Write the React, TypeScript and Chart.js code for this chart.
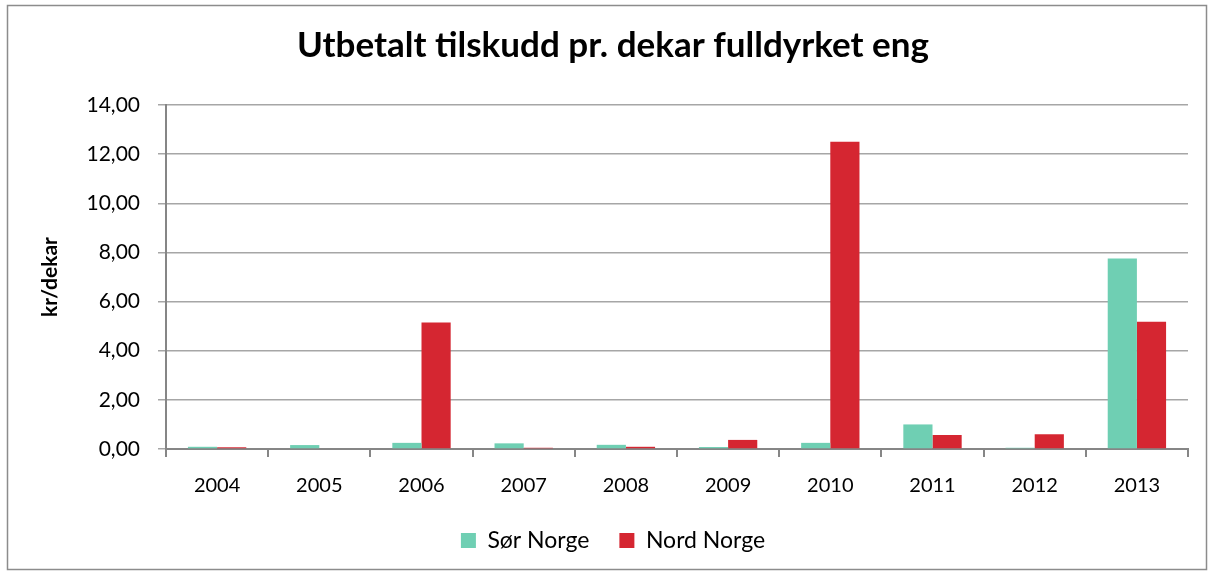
import React, { useEffect, useRef } from "react";
import { Chart, registerables } from "chart.js";

Chart.register(...registerables);

const years = ["2004", "2005", "2006", "2007", "2008", "2009", "2010", "2011", "2012", "2013"];
const sorNorge = [0.09, 0.16, 0.25, 0.23, 0.17, 0.08, 0.25, 1.0, 0.05, 7.75];
const nordNorge = [0.07, 0.03, 5.15, 0.05, 0.09, 0.37, 12.5, 0.57, 0.6, 5.18];
const chartTitle = "Utbetalt tilskudd pr. dekar fulldyrket eng";
const yTitle = "kr/dekar";
const seriesNames = ["Sør Norge", "Nord Norge"];

const FONT = "Lato, 'Open Sans', sans-serif";

const borderPlugin = {
  id: "outerBorder",
  beforeDraw(chart: any) {
    const ctx = chart.ctx;
    ctx.save();
    ctx.fillStyle = "#ffffff";
    ctx.fillRect(0, 0, chart.width, chart.height);
    ctx.strokeStyle = "#8c8c8c";
    ctx.lineWidth = 1.5;
    ctx.strokeRect(7.5, 5.5, chart.width - 15, chart.height - 11);
    ctx.restore();
  },
};

export default function App() {
  const ref = useRef<HTMLCanvasElement | null>(null);
  useEffect(() => {
    document.body.style.margin = "0";
    const chart = new Chart(ref.current!, {
      type: "bar",
      data: {
        labels: years,
        datasets: [
          {
            label: seriesNames[0],
            data: sorNorge,
            backgroundColor: "#6fcfb3",
            categoryPercentage: 0.571,
            barPercentage: 1,
          },
          {
            label: seriesNames[1],
            data: nordNorge,
            backgroundColor: "#d52631",
            categoryPercentage: 0.571,
            barPercentage: 1,
          },
        ],
      },
      options: {
        animation: false,
        responsive: false,
        layout: { padding: { left: 38, right: 26, top: 22, bottom: 13 } },
        plugins: {
          title: {
            display: true,
            text: chartTitle,
            color: "#000",
            font: { family: FONT, size: 35, weight: "bold" },
            padding: { top: 3, bottom: 38 },
          },
          legend: {
            position: "bottom",
            labels: {
              color: "#000",
              font: { family: FONT, size: 23 },
              boxWidth: 15,
              boxHeight: 15,
              padding: 30,
            },
          },
          tooltip: { enabled: false },
        },
        scales: {
          x: {
            afterFit: (scale: any) => {
              scale.height = 50;
            },
            grid: {
              offset: true,
              drawOnChartArea: false,
              drawTicks: true,
              tickLength: 8,
              color: "#868686",
              lineWidth: 2,
            },
            border: { color: "#868686", width: 2 },
            ticks: { color: "#000", font: { family: FONT, size: 20 }, padding: 17 },
          },
          y: {
            min: 0,
            max: 14,
            afterFit: (scale: any) => {
              scale.width = 128;
            },
            ticks: {
              stepSize: 2,
              color: "#000",
              font: { family: FONT, size: 21 },
              padding: 18,
              callback: (v: any) => Number(v).toFixed(2).replace(".", ","),
            },
            grid: { color: "#a6a6a6", lineWidth: 1.5, tickLength: 8 },
            border: { color: "#868686", width: 2 },
            title: {
              display: true,
              text: yTitle,
              color: "#000",
              font: { family: FONT, size: 21, weight: "bold" },
              padding: { top: 0, bottom: 8 },
            },
          },
        },
      },
      plugins: [borderPlugin],
    });
    return () => chart.destroy();
  }, []);
  return <canvas ref={ref} width={1214} height={575} style={{ display: "block" }} />;
}
